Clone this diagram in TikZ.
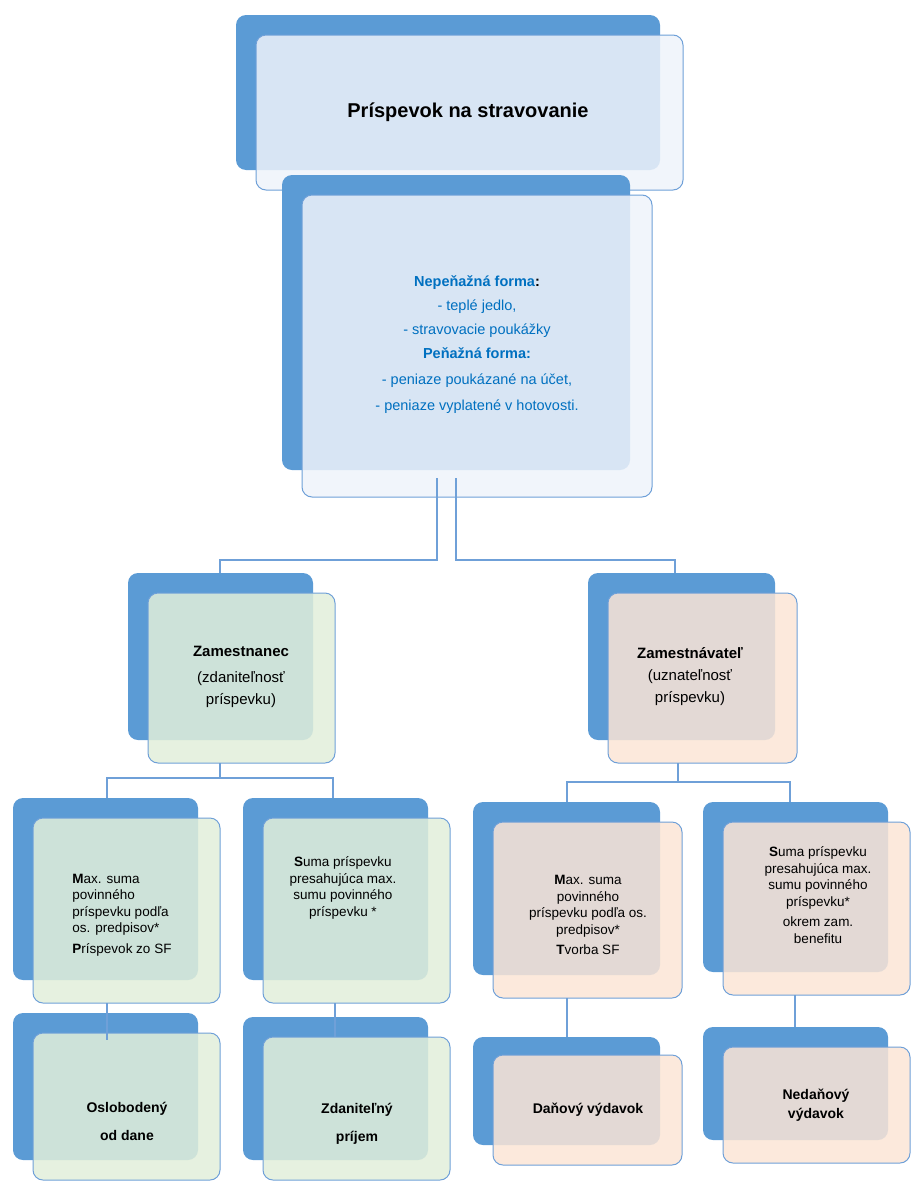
\documentclass[tikz,border=0pt]{standalone}
\usepackage{fontspec}
\setmainfont{Liberation Sans}
\definecolor{bk}{HTML}{5B9BD5}
\definecolor{ln}{HTML}{6FA0D8}
\definecolor{gr}{HTML}{E2EFDA}
\definecolor{pe}{HTML}{FBE5D6}
\definecolor{lb}{HTML}{EEF3FA}
\definecolor{hd}{HTML}{0070C0}
\begin{document}
\begin{tikzpicture}[x=1pt,y=-1pt,
 back/.style={fill=bk,draw=none,rounded corners=10pt},
 front/.style={draw=ln,line width=1pt,rounded corners=10pt,fill opacity=0.85},
 con/.style={draw=ln,line width=1.2pt},
 txt/.style={align=center,font=\fontsize{13.5}{16.5}\selectfont,text=black}]
\useasboundingbox (0,0) rectangle (923,1191);
% boxes
\newcommand{\bx}[9]{%
 \fill[back] (#1,#2) rectangle (#3,#4);
 \filldraw[front,fill=#9] (#5,#6) rectangle (#7,#8);}
\bx{236}{15}{660}{170}{256}{35}{683}{190}{lb}
\bx{282}{175}{630}{470}{302}{195}{652}{497}{lb}
\bx{128}{573}{313}{740}{148}{593}{335}{763}{gr}
\bx{588}{573}{775}{740}{608}{593}{797}{763}{pe}
\bx{13}{798}{198}{980}{33}{818}{220}{1003}{gr}
\bx{243}{798}{428}{980}{263}{818}{450}{1003}{gr}
\bx{473}{802}{660}{975}{493}{822}{682}{998}{pe}
\bx{703}{802}{888}{972}{723}{822}{910}{995}{pe}
\bx{13}{1013}{198}{1160}{33}{1033}{220}{1180}{gr}
\bx{243}{1017}{428}{1160}{263}{1037}{450}{1180}{gr}
\bx{473}{1037}{660}{1145}{493}{1055}{682}{1165}{pe}
\bx{703}{1027}{888}{1140}{723}{1047}{910}{1163}{pe}
% connectors
\coordinate (s1) at (437,478); \coordinate (s2) at (456,478);
\coordinate (za) at (220,573); \coordinate (zv) at (675,573);
\draw[con] (s1) |- (220,560) -- (za);
\draw[con] (s2) |- (675,560) -- (zv);
\draw[con] (220,763) -- (220,778); \draw[con] (107,798) |- (333,778) -- (333,798);
\draw[con] (678,763) -- (678,782); \draw[con] (567,802) |- (790,782) -- (790,802);
\draw[con] (107,1003) -- (107,1040); \draw[con] (335,1003) -- (335,1037);
\draw[con] (567,998) -- (567,1037); \draw[con] (795,995) -- (795,1027);
% texts
\node[font=\bfseries\fontsize{20}{24}\selectfont] (t) at (468,112) {Príspevok na stravovanie};
\node[txt,font=\fontsize{14.5}{18}\selectfont,text=hd] (f) at (477,345) {%
\textbf{Nepeňažná forma}\textcolor{black}{\textbf{:}}\\[6pt]
- teplé jedlo,\\[6pt]
- stravovacie poukážky\\[6pt]
\textbf{Peňažná forma:}\\[8pt]
- peniaze poukázané na účet,\\[8pt]
- peniaze vyplatené v hotovosti.};
\node[txt,font=\fontsize{15}{22}\selectfont] (a) at (241,677) {\textbf{Zamestnanec}\\[4pt](zdaniteľnosť\\príspevku)};
\node[txt,font=\fontsize{15}{22}\selectfont] (b) at (690,677) {\textbf{Zamestnávateľ}\\(uznateľnosť\\príspevku)};
\node[txt,align=left] (c) at (122,915) {\textbf{M}ax. suma\\povinného\\príspevku podľa\\os. predpisov*\\[4pt]\textbf{P}ríspevok zo SF};
\node[txt] (d) at (343,888) {\textbf{S}uma príspevku\\presahujúca max.\\sumu povinného\\príspevku *};
\node[txt] (e) at (588,915) {\textbf{M}ax. suma\\povinného\\príspevku podľa os.\\predpisov*\\[4pt]\textbf{T}vorba SF};
\node[txt] (g) at (818,895) {\textbf{S}uma príspevku\\presahujúca max.\\sumu povinného\\príspevku*\\[4pt]okrem zam.\\benefitu};
\node[txt,font=\bfseries\fontsize{14}{28}\selectfont] (h) at (127,1121) {Oslobodený\\od dane};
\node[txt,font=\bfseries\fontsize{14}{28}\selectfont] (i) at (357,1124) {Zdaniteľný\\príjem};
\node[txt,font=\bfseries\fontsize{14}{18}\selectfont] (j) at (588,1110) {Daňový výdavok};
\node[txt,font=\bfseries\fontsize{14}{19}\selectfont] (k) at (816,1105) {Nedaňový\\výdavok};
\end{tikzpicture}
\end{document}
